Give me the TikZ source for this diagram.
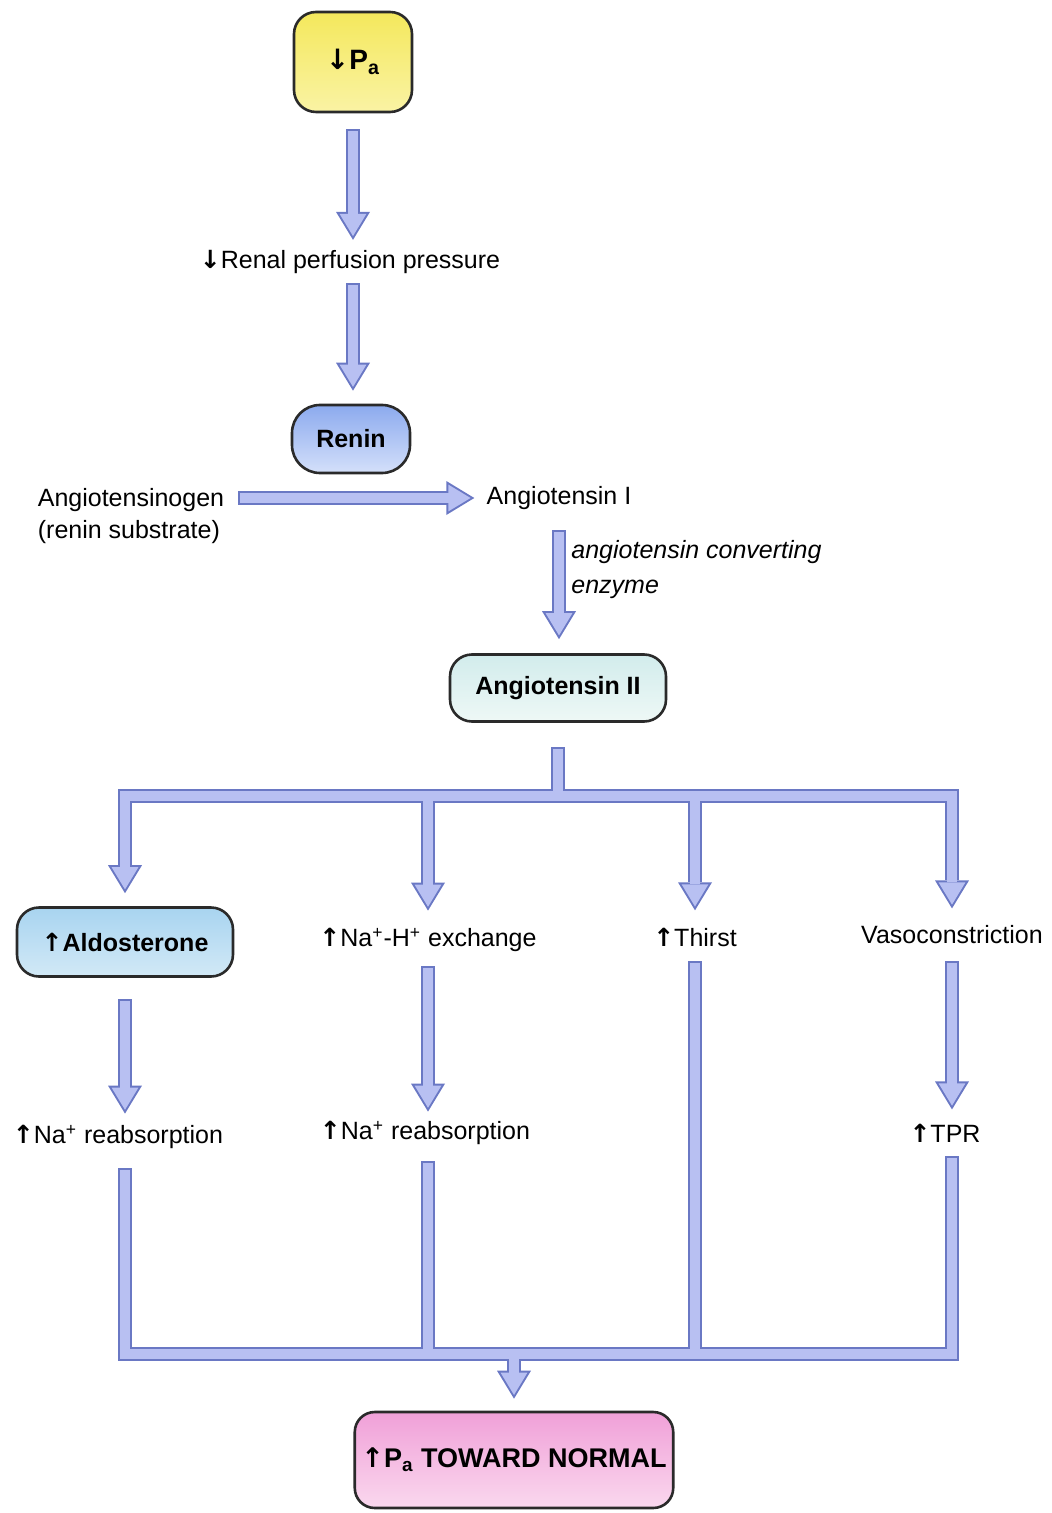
\documentclass[tikz,border=0pt]{standalone}
\usepackage{fontspec}
\setmainfont{Liberation Sans}
\newfontfamily\arrowfont{DejaVu Sans}
\usetikzlibrary{arrows.meta,calc}

\definecolor{pipefill}{HTML}{B8C0F2}
\definecolor{pipeedge}{HTML}{6A78C4}
\definecolor{boxline}{HTML}{2A2A2A}
\definecolor{paTop}{HTML}{F4E85C}
\definecolor{paBot}{HTML}{FAF3A4}
\definecolor{reninTop}{HTML}{8CAAEE}
\definecolor{reninBot}{HTML}{D4E0FA}
\definecolor{angTop}{HTML}{D2ECEC}
\definecolor{angBot}{HTML}{EEF8F6}
\definecolor{aldoTop}{HTML}{A8D4F0}
\definecolor{aldoBot}{HTML}{D2E9F6}
\definecolor{goalTop}{HTML}{F0A0D8}
\definecolor{goalBot}{HTML}{FAD8EE}

\newcommand{\upar}{{\arrowfont\bfseries ↑}}
\newcommand{\dnar}{{\arrowfont\bfseries ↓}}

\begin{document}
\begin{tikzpicture}[
  x=0.5pt, y=-0.5pt,
  txt/.style={font=\fontsize{12.5}{16}\selectfont, inner sep=2pt},
  stage/.style={draw=boxline, line width=1.3pt, rounded corners=11pt,
                font=\fontsize{12.5}{16}\selectfont\bfseries},
  pipe/.style={draw=pipeedge, line width=7pt, line cap=rect, line join=miter,
               -{Triangle[width=17pt,length=14pt,line width=0pt]},
               postaction={draw=pipefill, line width=5pt, shorten >=1.9pt,
                 -{Triangle[width=13.4pt,length=11.1pt,line width=0pt]},
                 pipe start}},
  pipe start/.style={},
  open pipe/.style={line cap=butt, pipe start/.style={shorten <=-1pt}},
  duct/.style={draw=pipeedge, line width=7pt, line cap=rect, line join=miter,
               postaction={draw=pipefill, line width=5pt}}
]
  \useasboundingbox (0,0) rectangle (1052,1513);

  % boxes and labels
  \node[stage, top color=paTop, bottom color=paBot,
        minimum width=59pt, minimum height=50pt,
        font=\fontsize{14}{16}\selectfont\bfseries] (pa) at (353,62) {\dnar P\textsubscript{a}};
  \node[txt] (renal) at (350,262) {\dnar Renal perfusion pressure};
  \node[stage, top color=reninTop, bottom color=reninBot,
        rounded corners=14pt, minimum width=59pt, minimum height=34pt] (renin) at (351,439) {Renin};
  \node[txt, align=left] (agen) at (131,516) {Angiotensinogen\\(renin substrate)};
  \node[txt] (ang1) at (559,498) {Angiotensin I};
  \node[txt, anchor=west, align=left,
        font=\fontsize{12.5}{17.5}\selectfont\itshape] (ace) at (567,570) {angiotensin converting\\enzyme};
  \node[stage, top color=angTop, bottom color=angBot,
        minimum width=108pt, minimum height=33.5pt] (ang2) at (558,688) {Angiotensin II};

  \node[stage, top color=aldoTop, bottom color=aldoBot,
        minimum width=108pt, minimum height=34.5pt] (aldo) at (125,942) {\upar Aldosterone};
  \node[txt] (nah) at (428,940) {\upar Na\textsuperscript{+}-H\textsuperscript{+} exchange};
  \node[txt] (thirst) at (695,937) {\upar Thirst};
  \node[txt] (vaso) at (952,935) {Vasoconstriction};

  \node[txt] (reab1) at (118,1137) {\upar Na\textsuperscript{+} reabsorption};
  \node[txt] (reab2) at (425,1133) {\upar Na\textsuperscript{+} reabsorption};
  \node[txt] (tpr) at (945,1133) {\upar TPR};

  \node[stage, top color=goalTop, bottom color=goalBot,
        rounded corners=10pt, minimum width=151pt, minimum height=48pt,
        font=\fontsize{13.5}{16}\selectfont\bfseries] (goal) at (514,1460) {\upar P\textsubscript{a} TOWARD NORMAL};

  % cascade
  \draw[pipe] ($(pa.south)+(0,23)$) -- ($(pa |- renal.north)+(0,-6)$);
  \draw[pipe] ($(pa |- renal.south)+(0,12)$) -- ($(pa |- renin.north)+(0,-13)$);
  \draw[pipe] ($(agen.east |- ang1)+(16,0)$) -- ($(ang1.west)+(-8,0)$);
  \draw[pipe] ($(ang1.south)+(0,23)$) -- ($(ang1 |- ang2.north)+(0,-14)$);

  % split into four effects
  \coordinate (split) at ($(ang2.south)+(0,73)$);
  \draw[duct] ($(ang2.south)+(0,31)$) -- (split)
    (aldo |- split) -- (vaso |- split);
  \foreach \dest in {aldo, nah, thirst, vaso}
    \draw[pipe, open pipe] ($(\dest |- split)+(0,7)$) -- ($(\dest.north)+(0,-13)$);

  \draw[pipe] ($(aldo.south)+(0,28)$) -- ($(aldo |- reab1.north)+(0,-7)$);
  \draw[pipe] ($(nah.south)+(0,17)$) -- ($(nah |- reab2.north)+(0,-5)$);
  \draw[pipe] ($(vaso.south)+(0,19)$) -- ($(vaso |- tpr.north)+(0,-10)$);

  % merge back
  \coordinate (merge) at ($(goal.north)+(0,-57)$);
  \draw[duct] ($(aldo |- reab1.south)+(0,22)$) |- (merge)
    -| ($(vaso |- tpr.south)+(0,16)$)
    ($(nah |- reab2.south)+(0,19)$) -- (nah |- merge)
    ($(thirst.south)+(0,17)$) -- (thirst |- merge);
  \draw[pipe, open pipe] ($(merge)+(0,7)$) -- ($(goal.north)+(0,-12)$);
\end{tikzpicture}
\end{document}
